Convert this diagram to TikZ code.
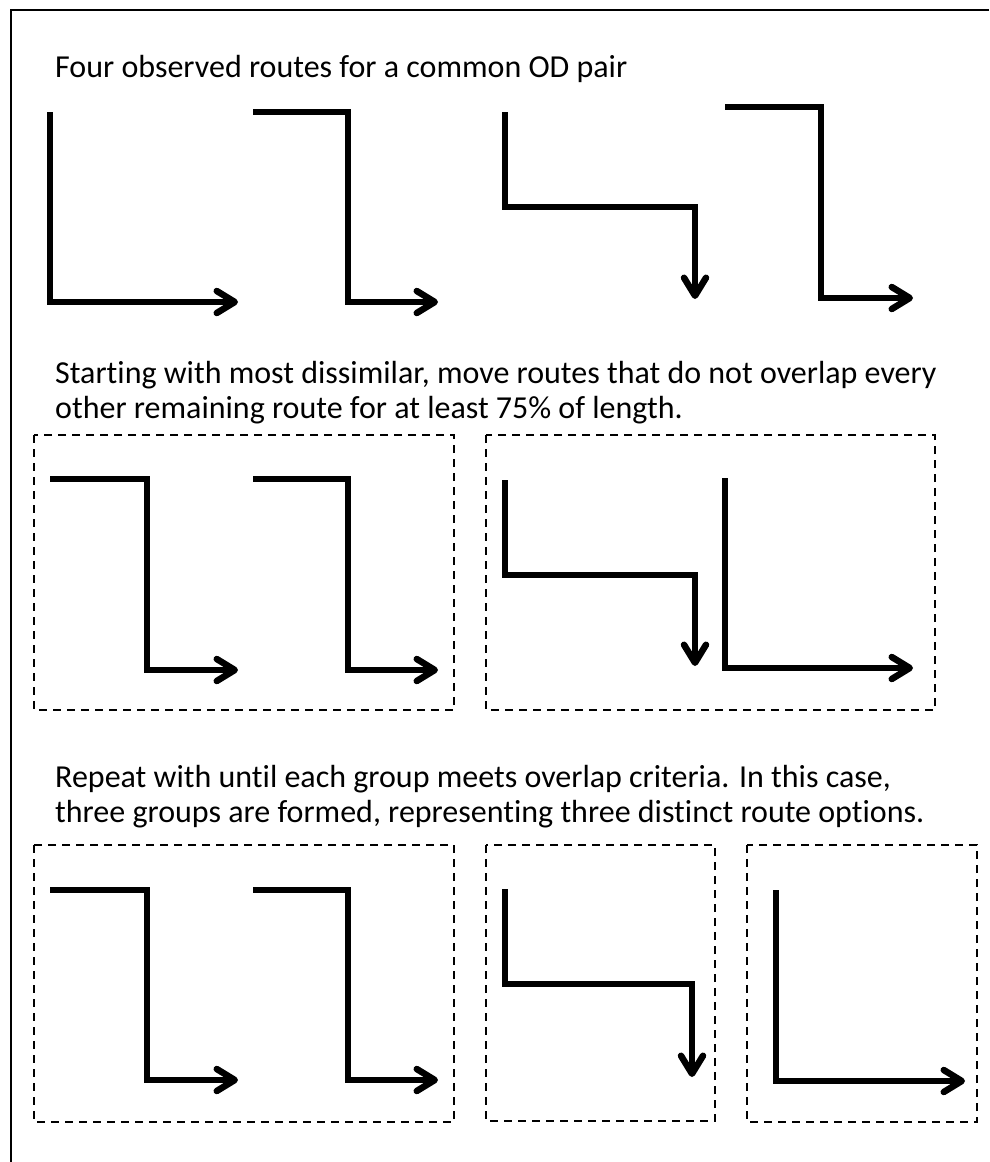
\documentclass[tikz,border=0pt]{standalone}
\usepackage{fontspec}
\setmainfont{Carlito}[Ligatures=NoCommon]
\usetikzlibrary{arrows.meta}

\begin{document}
\begin{tikzpicture}[x=1pt, y=-1pt]
    \tikzstyle{route}=[
        line width = 6.5pt,
        -{Straight Barb[length=18pt, width=22pt, round]}
    ]
    \tikzstyle{group}=[draw, line width=2pt, dash pattern=on 8pt off 6pt]
    \tikzstyle{caption}=[anchor=base west, align=left, inner sep=0pt,
        font=\fontsize{32}{35}\selectfont]
    \useasboundingbox (0,0) rectangle (989,1162);
    \draw[line width=2.5pt] (989,10) -- (11,10) -- (11,1162);

    % captions (base = last line)
    \node[caption] (intro) at (55,77) {Four observed routes for a common OD pair};
    \node[caption] (step) at (55,418) {Starting with most dissimilar, move routes that do not overlap every\\
        other remaining route for at least 75\% of length.};
    \node[caption] (repeat) at (55,822) {Repeat with until each group meets overlap criteria. In this case,\\
        three groups are formed, representing three distinct route options.};

    % observed routes
    \draw[route] (50,112) -- (50,302) -- (238,302);
    \draw[route] (253,112) -- (348,112) -- (348,302) -- (438,302);
    \draw[route] (505,112) -- (505,207) -- (695,207) -- (695,299);
    \draw[route] (725,107) -- (821,107) -- (821,298) -- (913,298);

    % first split
    \draw[group] (34,435) rectangle (454,710);
    \draw[group] (486,435) rectangle (935,710);
    \draw[route] (50,479) -- (147,479) -- (147,670) -- (238,670);
    \draw[route] (253,479) -- (348,479) -- (348,670) -- (438,670);
    \draw[route] (505,480) -- (505,575) -- (695,575) -- (695,666);
    \draw[route] (725,478) -- (725,668) -- (913,668);

    % final groups
    \draw[group] (34,845) rectangle (454,1122);
    \draw[group] (486,845) rectangle (715,1121);
    \draw[group] (747,845) rectangle (977,1122);
    \draw[route] (50,890) -- (147,890) -- (147,1080) -- (238,1080);
    \draw[route] (253,890) -- (348,890) -- (348,1080) -- (438,1080);
    \draw[route] (505,889) -- (505,984) -- (692,984) -- (692,1077);
    \draw[route] (776,890) -- (776,1081) -- (965,1081);
\end{tikzpicture}
\end{document}
